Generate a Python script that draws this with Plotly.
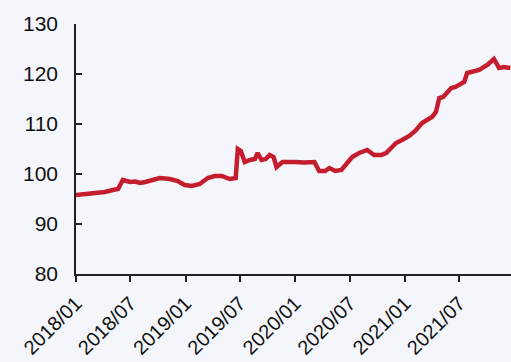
import plotly.graph_objects as go

# Index level, 2018/01 - 2021/12
dates = [
    "2018-01-01", "2018-01-20", "2018-02-16", "2018-03-10", "2018-04-07", "2018-05-04",
    "2018-05-21", "2018-06-06", "2018-06-30", "2018-07-18", "2018-08-02", "2018-08-20",
    "2018-09-04", "2018-09-22", "2018-10-07", "2018-10-25", "2018-11-10", "2018-12-06",
    "2018-12-29", "2019-01-22", "2019-02-17", "2019-03-16", "2019-04-08", "2019-05-02",
    "2019-05-28", "2019-06-17", "2019-06-24", "2019-07-04", "2019-07-17", "2019-08-03",
    "2019-08-20", "2019-08-29", "2019-09-11", "2019-09-25", "2019-10-08", "2019-10-21",
    "2019-10-31", "2019-11-20", "2019-12-10", "2019-12-30", "2020-02-01", "2020-03-05",
    "2020-03-21", "2020-04-10", "2020-04-24", "2020-05-14", "2020-06-03", "2020-06-23",
    "2020-07-09", "2020-08-01", "2020-08-28", "2020-09-20", "2020-10-13", "2020-10-30",
    "2020-11-16", "2020-12-02", "2020-12-22", "2021-01-15", "2021-02-04", "2021-02-27",
    "2021-03-15", "2021-04-01", "2021-04-14", "2021-04-25", "2021-05-08", "2021-05-18",
    "2021-06-04", "2021-06-18", "2021-06-30", "2021-07-17", "2021-07-27", "2021-08-16",
    "2021-09-05", "2021-10-02", "2021-10-24", "2021-11-03", "2021-11-10", "2021-11-26",
    "2021-12-18",
]
values = [
    95.8, 95.9, 96.0, 96.3, 96.4, 96.8,
    97.0, 98.8, 98.4, 98.5, 98.2, 98.4,
    98.6, 98.9, 99.2, 99.1, 99.0, 98.6,
    97.8, 97.6, 98.0, 99.2, 99.6, 99.6,
    99.0, 99.2, 105.0, 104.6, 102.4, 102.8,
    103.0, 104.2, 102.8, 103.0, 103.8, 103.4,
    101.4, 102.4, 102.3, 102.4, 102.3, 102.4,
    100.6, 100.6, 101.2, 100.6, 100.8, 102.4,
    103.4, 104.2, 104.8, 103.8, 103.8, 104.2,
    105.2, 106.2, 106.8, 107.6, 108.6, 110.2,
    110.8, 111.4, 112.4, 115.2, 115.4, 116.0,
    117.2, 117.4, 117.8, 118.4, 120.2, 120.4,
    120.8, 121.8, 123.0, 122.0, 121.2, 121.4,
    121.2,
]

tick_dates = ["2018-01-01", "2018-07-01", "2019-01-01", "2019-07-01",
              "2020-01-01", "2020-07-01", "2021-01-01", "2021-07-01"]
tick_labels = ["2018/01", "2018/07", "2019/01", "2019/07",
               "2020/01", "2020/07", "2021/01", "2021/07"]
y_ticks = [80, 90, 100, 110, 120, 130]

fig = go.Figure(go.Scatter(
    x=dates, y=values, mode="lines",
    line=dict(color="#c41e2e", width=4.5),
    showlegend=False,
))

font = dict(family="Liberation Sans, Arial, sans-serif", size=21, color="#111111")

fig.update_layout(
    width=511, height=362,
    margin=dict(l=76, r=0, t=24, b=88),
    paper_bgcolor="#f4f6fb", plot_bgcolor="#f4f6fb",
    font=font,
    xaxis=dict(
        type="date", range=["2018-01-01", "2021-12-20"],
        tickvals=tick_dates, ticktext=tick_labels, tickangle=-45,
        ticks="outside", ticklen=6, tickwidth=1.5, tickcolor="#222222",
        showline=True, linecolor="#222222", linewidth=1.5,
        showgrid=False, zeroline=False, ticklabelstandoff=2,
        tickfont=dict(size=20),
        automargin=False,
    ),
    yaxis=dict(
        range=[80, 130], tickvals=y_ticks,
        ticks="inside", ticklen=6, tickwidth=1.5, tickcolor="#222222",
        showline=True, linecolor="#222222", linewidth=1.5,
        showgrid=False, zeroline=False, ticklabelstandoff=12,
        automargin=False,
    ),
)

fig.write_html("out.html")
